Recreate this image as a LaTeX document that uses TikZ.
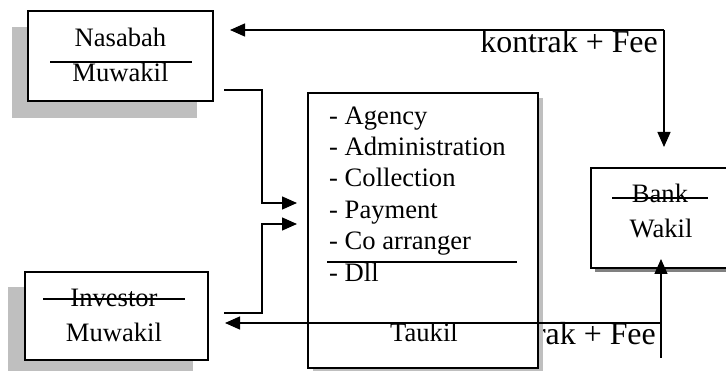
\documentclass[tikz,border=0pt]{standalone}
\usepackage{fontspec}
\setmainfont{Liberation Serif}
\usetikzlibrary{arrows.meta}
\begin{document}
\begin{tikzpicture}[x=1pt,y=-1pt,
  box/.style={draw, line width=1.6pt, fill=white, inner sep=0pt},
  shad/.style={fill=#1, draw=none},
  conn/.style={line width=1.4pt},
  arr/.style={conn, -{Triangle[length=15pt,width=13pt]}},
  txt/.style={inner sep=0pt, font=\fontsize{26.6pt}{31pt}\selectfont},
  lbl/.style={inner sep=0pt, font=\fontsize{31.9pt}{36pt}\selectfont},
  rule/.style={line width=1.2pt}]
\useasboundingbox (0,0) rectangle (726,371);
\clip (0,0) rectangle (726,371);

% bottom label (partly hidden behind Taukil box)
\node[lbl, anchor=base east] (lblbot) at (656,345) {kontrak + Fee};

% shadows
\fill[shad={black!25}] (12,27) rectangle (197,118);
\fill[shad={black!25}] (8,287) rectangle (193,380);
\fill[shad={black!25}] (313,98) rectangle (543,380);
\fill[shad={black!50}] (595,172) rectangle (740,272);

% boxes
\node[box, minimum width=185pt, minimum height=90pt] (nas) at (120.5,56) {};
\node[box, minimum width=183pt, minimum height=88pt] (inv) at (116.5,316) {};
\node[box, minimum width=230pt, minimum height=275pt] (tau) at (423,230.5) {};
\node[box, minimum width=140pt, minimum height=100pt] (bank) at (661,218) {};

% Nasabah texts
\node[txt, anchor=base] (nas1) at (120.5,47) {Nasabah};
\node[txt, anchor=base] (nas2) at (120.5,82) {Muwakil};
\draw[rule] (50,62) -- (192,62);

% Investor texts
\node[txt, anchor=base] (inv1) at (114,307) {Investor};
\node[txt, anchor=base] (inv2) at (114,342) {Muwakil};
\draw[rule] (43,299) -- (185,299);

% Bank texts
\node[txt, anchor=base] (bank1) at (660,203) {Bank};
\node[txt, anchor=base] (bank2) at (661,238) {Wakil};
\draw[rule] (612,198) -- (708,198);

% Taukil texts
\node[txt, anchor=base west] (t1) at (329,125) {- Agency};
\node[txt, anchor=base west] (t2) at (329,156) {- Administration};
\node[txt, anchor=base west] (t3) at (329,187) {- Collection};
\node[txt, anchor=base west] (t4) at (329,219) {- Payment};
\node[txt, anchor=base west] (t5) at (329,250) {- Co arranger};
\node[txt, anchor=base west] (t6) at (329,282) {- Dll};
\draw[rule] (327,262) -- (517,262);
\node[txt, anchor=base] (t7) at (424,342) {Taukil};

% top label
\node[lbl, anchor=base east] (lbltop) at (658,53) {kontrak + Fee};

% connector coordinates
\coordinate (tr) at (664,30);
\coordinate (nasin) at (230,30);
\coordinate (bankin) at (664,147);
\coordinate (nasout) at (224,90);
\coordinate (invout) at (224,313);
\coordinate (tauin1) at (297,203);
\coordinate (tauin2) at (297,224);
\coordinate (br) at (661,358);
\coordinate (bj) at (661,323);
\coordinate (bankin2) at (661,259);
\coordinate (invin) at (225,323);

% connectors
\draw[arr] (tr) -- (nasin);
\draw[arr] (tr) -- (bankin);
\draw[arr] (nasout) -- (262,90) -- (262,203) -- (tauin1);
\draw[arr] (invout) -- (262,313) -- (262,224) -- (tauin2);
\draw[arr] (br) -- (bankin2);
\draw[arr] (bj) -- (invin);
\end{tikzpicture}
\end{document}
